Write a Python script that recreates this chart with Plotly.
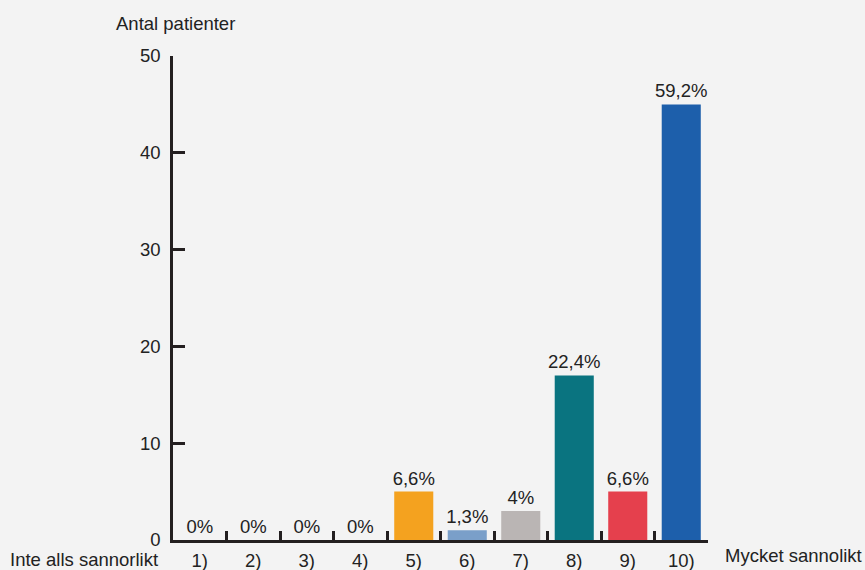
import plotly.graph_objects as go

categories = ["1)", "2)", "3)", "4)", "5)", "6)", "7)", "8)", "9)", "10)"]
counts = [0, 0, 0, 0, 5, 1, 3, 17, 5, 45]
pct_labels = ["0%", "0%", "0%", "0%", "6,6%", "1,3%", "4%", "22,4%", "6,6%", "59,2%"]
colors = ["#f4a21f"] * 4 + ["#f4a21f", "#7a9fc9", "#bab5b4", "#0a7480", "#e5404d", "#1d5fab"]

y_title = "Antal patienter"
left_label = "Inte alls sannorlikt"
right_label = "Mycket sannolikt"

font = "Liberation Sans, Arial, sans-serif"
dark = "#231f20"
fs = 18.5

fig = go.Figure(go.Bar(
    x=categories, y=counts, text=pct_labels, textposition="outside",
    marker=dict(color=colors, line=dict(width=0)),
    textfont=dict(family=font, size=fs, color="#222222"),
    constraintext="none", cliponaxis=False,
))

fig.update_layout(
    width=865, height=570,
    margin=dict(l=173, r=157, t=56, b=30),
    paper_bgcolor="#f3f3f3", plot_bgcolor="#f3f3f3",
    bargap=0.27, showlegend=False,
    font=dict(family=font, size=fs, color="#222222"),
    xaxis=dict(
        type="category", tickson="boundaries", ticks="inside", ticklen=9,
        tickwidth=2.5, tickcolor=dark, showline=True, linecolor=dark, linewidth=2.5,
        showgrid=False, zeroline=False, tickfont=dict(size=fs, color="#222222"),
        ticklabelstandoff=2, automargin=False,
    ),
    yaxis=dict(
        range=[0, 50], tickvals=[0, 10, 20, 30, 40, 50], ticks="inside", ticklen=12,
        tickwidth=2.5, tickcolor=dark, showline=True, linecolor=dark, linewidth=2.5,
        showgrid=False, zeroline=False, tickfont=dict(size=fs, color="#222222"),
        ticklabelstandoff=6, automargin=False,
    ),
    annotations=[
        dict(text=y_title, xref="paper", yref="paper", x=0.004, y=1.068,
             xanchor="center", yanchor="middle", showarrow=False, font=dict(size=fs)),
        dict(text=left_label, xref="paper", yref="paper", x=-0.166, y=-0.041,
             xanchor="center", yanchor="middle", showarrow=False, font=dict(size=fs)),
        dict(text=right_label, xref="paper", yref="paper", x=1.159, y=-0.031,
             xanchor="center", yanchor="middle", showarrow=False, font=dict(size=fs)),
    ],
)

fig.write_html(
    "out.html",
    config={"displayModeBar": False},
    post_script="document.body.style.margin='0';document.body.style.background='#f3f3f3';",
)
